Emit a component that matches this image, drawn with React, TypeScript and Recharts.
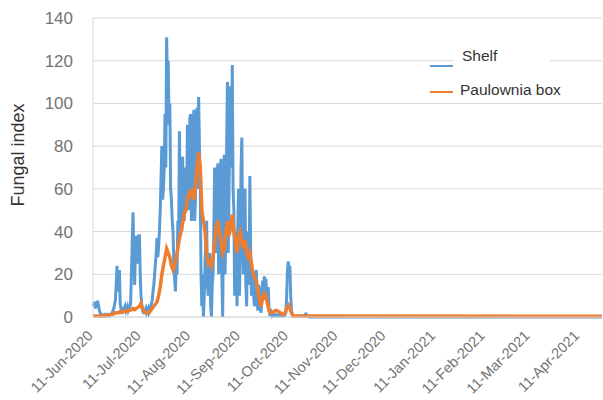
import { LineChart, Line, XAxis, YAxis, CartesianGrid, Label } from "recharts";

// Shelf readings, two per day from 11-Jun-2020 (day 0): morning and afternoon
const shelfAm = [
  5, 7, 6, 7, 3, 1,
  1, 0.5, 0.5, 1, 0.5, 1, 2,
  4, 8, 24, 20, 6,
  4, 3, 5, 4, 3, 5,
  20, 49, 15, 38, 37, 38, 10,
  3, 2, 4, 3, 2, 5,
  8, 15, 25, 37, 33, 50, 80, 60,
  95, 131, 120, 100, 55, 40, 18, 25,
  45, 87, 60, 75, 45, 70,
  90, 60, 95, 70, 97, 55, 98, 103, 60,
  5, 0, 25, 45, 10, 30, 0, 20,
  70, 40, 72, 30, 74, 0,
  76, 40, 110, 60, 108, 118, 50,
  20, 5, 60, 30, 84, 20, 60, 5,
  30, 66, 10,
  20, 5, 22, 3,
  12, 2, 17, 19, 18, 8, 3, 1,
  0.5, 1, 0.5, 0.5, 1, 0.5, 0.5, 0.5, 1,
  10, 26, 24, 3,
  0.3, 0.3, 0.3, 0.3, 0.3, 0.3, 0.3, 0.3, 2, 0.3, 0,
];

const shelfPm = [
  6, 4, 7, 5, 2, 1,
  0.5, 1, 0.5, 0.5, 1, 1.5, 3,
  6, 15, 12, 22, 4,
  3, 4, 3, 5, 4, 6,
  35, 30, 30, 25, 38, 20, 5,
  2, 3, 2, 4, 3, 6,
  12, 20, 30, 28, 40, 65, 55, 70,
  70, 110, 90, 60, 45, 25, 12, 20,
  35, 50, 40, 50, 60, 50,
  50, 93, 45, 88, 45, 90, 60, 80, 20,
  20, 10, 35, 15, 25, 5, 15, 40,
  30, 65, 20, 70, 20, 40,
  20, 80, 30, 100, 70, 60, 10,
  40, 45, 10, 70, 35, 50, 15, 40,
  15, 30, 22,
  8, 18, 10, 15,
  5, 10, 8, 15, 10, 14, 1, 2,
  1, 0.5, 1, 0.5, 0.5, 1, 0.5, 0.5, 2,
  22, 20, 10, 1,
  0.3, 0.3, 0.3, 0.3, 0.3, 0.3, 0.3, 0.3, 0.3, 0.3, 0,
];

// Paulownia box, one reading per day
const paulownia = [
  0.5, 0.5, 0.5, 0.5, 0.5, 0.5, 0.5, 0.5, 0.8, 1, 1, 1, 1.2,
  1.5, 2, 2, 2, 2.5, 2, 2.5, 3, 2.5, 3, 3,
  3.5, 4, 3.5, 4, 4.5, 5, 6.5,
  4, 2.5, 2, 2,
  2, 3, 4, 5, 6, 7, 10, 14, 20, 24,
  28, 32, 30, 28, 24, 22, 24, 28, 32,
  37, 40, 44, 48, 50, 55, 58, 57, 60, 55, 62, 70, 77, 70,
  50, 45, 40, 30, 25, 26, 24, 28, 35, 42, 45, 40, 35, 30,
  32, 40, 45, 38, 42, 48, 40, 35, 30, 38, 40, 35, 32, 36, 30,
  28, 30, 25, 20, 18, 17, 12, 8, 5, 9, 11, 10, 6, 3, 2,
  2, 2.5, 3, 3, 2.5, 2, 1.5, 1, 2,
  4, 5.5, 4, 2,
  0.5, 0.5, 0.5, 0.5, 0.5, 0.5, 0.5, 0.5, 0.5, 0.5, 0.5,
];

// flat at zero until the end of the record
const lastDay = 318;

const tickDays = [0, 30, 61, 92, 122, 153, 183, 214, 245, 273, 304];
const tickLabels = [
  "11-Jun-2020", "11-Jul-2020", "11-Aug-2020", "11-Sep-2020", "11-Oct-2020",
  "11-Nov-2020", "11-Dec-2020", "11-Jan-2021", "11-Feb-2021", "11-Mar-2021", "11-Apr-2021",
];

const yTicks = [0, 20, 40, 60, 80, 100, 120, 140];

const data: { day: number; shelf: number; paulownia: number | null }[] = [];
shelfAm.forEach((v, i) => {
  data.push({ day: i, shelf: v, paulownia: paulownia[i] });
  data.push({ day: i + 0.5, shelf: shelfPm[i], paulownia: null });
});
data.push({ day: lastDay, shelf: 0, paulownia: 0.3 });

const FONT = "'Liberation Sans', Arial, sans-serif";

const XTick = (props: any) => {
  const { x, y, payload } = props;
  const i = tickDays.indexOf(payload.value);
  return (
    <g transform={`translate(${x - 3},${y})`}>
      <text x={0} y={0} dy="0.35em" textAnchor="end" transform="rotate(-45)" fill="#737373" fontSize={14.5} fontFamily={FONT}>
        {tickLabels[i]}
      </text>
    </g>
  );
};

export default function App() {
  return (
    <div style={{ position: "absolute", left: 0, top: 0, width: 603, height: 400, background: "#fff" }}>
      <LineChart width={603} height={400} data={data} margin={{ top: 18, right: 1, bottom: 0, left: 0 }}>
        <CartesianGrid vertical={false} stroke="#d9d9d9" />
        <XAxis
          dataKey="day"
          type="number"
          domain={[0, lastDay]}
          ticks={tickDays}
          interval={0}
          height={83}
          tickSize={0}
          tickMargin={16}
          axisLine={{ stroke: "#d9d9d9" }}
          tickLine={false}
          tick={<XTick />}
        />
        <YAxis
          domain={[0, 140]}
          ticks={yTicks}
          width={93}
          tickSize={0}
          tickMargin={20}
          axisLine={{ stroke: "#d9d9d9" }}
          tickLine={false}
          tick={{ fill: "#737373", fontSize: 17, fontFamily: FONT }}
        >
          <Label
            content={({ viewBox }: any) => (
              <text
                x={viewBox.x + 24}
                y={155}
                transform={`rotate(-90, ${viewBox.x + 24}, 155)`}
                textAnchor="middle"
                fill="#333"
                fontSize={18}
                fontFamily={FONT}
              >
                Fungal index
              </text>
            )}
          />
        </YAxis>
        <Line type="linear" dataKey="shelf" name="Shelf" stroke="#5b9bd5" strokeWidth={3} dot={false} isAnimationActive={false} />
        <Line type="linear" dataKey="paulownia" name="Paulownia box" stroke="#ed7d31" strokeWidth={3.5} dot={false} connectNulls isAnimationActive={false} />
      </LineChart>
      {/* legend, placed as in the original */}
      <div style={{ position: "absolute", left: 425, top: 45, width: 160, height: 60, fontFamily: FONT, fontSize: 15.5, color: "#333" }}>
        <div style={{ position: "absolute", left: 28, top: 3, width: 97, height: 22, background: "#fff" }} />
        <div style={{ position: "absolute", left: 5, top: 20, width: 23, height: 2, background: "#5b9bd5" }} />
        <div style={{ position: "absolute", left: 37, top: 2 }}>Shelf</div>
        <div style={{ position: "absolute", left: 5, top: 46, width: 23, height: 2, background: "#ed7d31" }} />
        <div style={{ position: "absolute", left: 35, top: 36 }}>Paulownia box</div>
      </div>
    </div>
  );
}
